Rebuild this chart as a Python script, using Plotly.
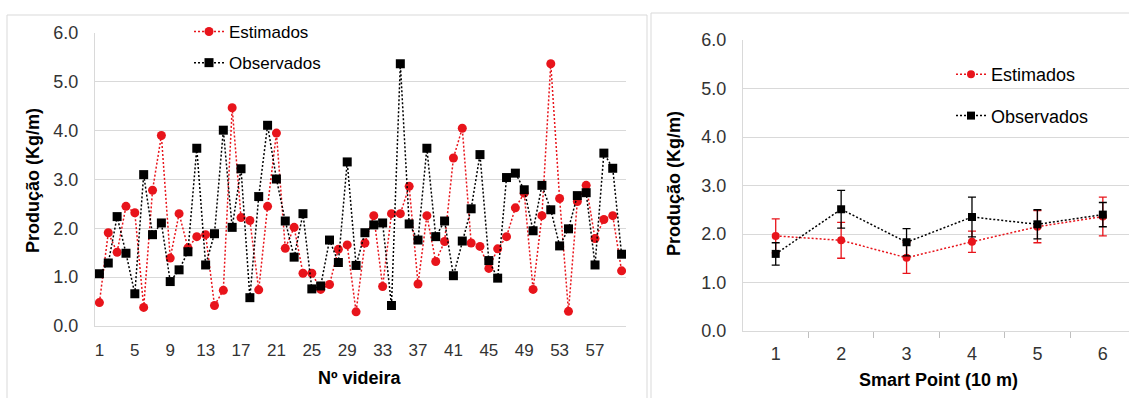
import plotly.graph_objects as go

W, H = 1129, 398

# ---------------- data ----------------
videira = list(range(1, 61))
estimados = [0.48, 1.91, 1.51, 2.45, 2.32, 0.38, 2.78, 3.90, 1.39, 2.30,
             1.60, 1.83, 1.87, 0.42, 0.73, 4.47, 2.22, 2.16, 0.74, 2.45,
             3.95, 1.59, 2.02, 1.08, 1.08, 0.75, 0.85, 1.57, 1.66, 0.29,
             1.70, 2.26, 0.81, 2.30, 2.30, 2.86, 0.86, 2.26, 1.32, 1.73,
             3.44, 4.05, 1.70, 1.63, 1.18, 1.58, 1.83, 2.42, 2.72, 0.75,
             2.26, 5.37, 2.61, 0.30, 2.55, 2.88, 1.79, 2.18, 2.26, 1.13]
observados = [1.07, 1.29, 2.24, 1.49, 0.66, 3.10, 1.87, 2.11, 0.91, 1.15,
              1.52, 3.64, 1.25, 1.89, 4.01, 2.02, 3.22, 0.58, 2.65, 4.11,
              3.01, 2.15, 1.41, 2.30, 0.76, 0.82, 1.76, 1.30, 3.36, 1.24,
              1.91, 2.07, 2.11, 0.42, 5.37, 2.09, 1.76, 3.64, 1.83, 2.15,
              1.03, 1.74, 2.40, 3.51, 1.34, 0.98, 3.04, 3.13, 2.79, 1.95,
              2.88, 2.38, 1.64, 1.99, 2.67, 2.73, 1.25, 3.54, 3.23, 1.47]
videira_ticks = [1, 5, 9, 13, 17, 21, 25, 29, 33, 37, 41, 45, 49, 53, 57]

smart_point = [1, 2, 3, 4, 5, 6]
est_sp = [1.96, 1.87, 1.51, 1.84, 2.15, 2.36]
est_sp_err = [0.35, 0.37, 0.32, 0.22, 0.33, 0.40]
obs_sp = [1.59, 2.51, 1.83, 2.35, 2.20, 2.40]
obs_sp_err = [0.23, 0.39, 0.28, 0.41, 0.30, 0.25]

y_ticks = [0, 1, 2, 3, 4, 5, 6]

RED = "#E8141B"
BLACK = "#000000"
GRID = "#d9d9d9"
FONT = "Liberation Sans, Arial, sans-serif"
DASH = "2px,2px"


def px_x(p):
    return p / W


def px_y(p):
    return 1 - p / H


fig = go.Figure()

# left panel
fig.add_trace(go.Scatter(
    x=videira, y=estimados, name="Estimados", mode="lines+markers",
    line=dict(color=RED, width=1.5, dash=DASH),
    marker=dict(symbol="circle", size=9, color=RED),
    xaxis="x", yaxis="y", legend="legend", legendgroup="e1"))
fig.add_trace(go.Scatter(
    x=videira, y=observados, name="Observados", mode="lines+markers",
    line=dict(color=BLACK, width=1.5, dash=DASH),
    marker=dict(symbol="square", size=9, color=BLACK),
    xaxis="x", yaxis="y", legend="legend", legendgroup="o1"))

# right panel
fig.add_trace(go.Scatter(
    x=smart_point, y=est_sp, name="Estimados", mode="lines+markers",
    line=dict(color=RED, width=1.5, dash=DASH),
    marker=dict(symbol="circle", size=8, color=RED),
    error_y=dict(type="data", array=est_sp_err, color=RED, thickness=1.3, width=4),
    xaxis="x2", yaxis="y2", legend="legend2", legendgroup="e2"))
fig.add_trace(go.Scatter(
    x=smart_point, y=obs_sp, name="Observados", mode="lines+markers",
    line=dict(color=BLACK, width=1.5, dash=DASH),
    marker=dict(symbol="square", size=8, color=BLACK),
    error_y=dict(type="data", array=obs_sp_err, color=BLACK, thickness=1.3, width=4),
    xaxis="x2", yaxis="y2", legend="legend2", legendgroup="o2"))

yaxis_common = dict(
    range=[0, 6], tickvals=y_ticks, tickformat=".1f", automargin=False,
    showgrid=True, gridcolor=GRID, gridwidth=1,
    showline=True, linecolor=GRID, linewidth=1, zeroline=False,
    ticks="outside", ticklen=12, tickcolor="rgba(0,0,0,0)",
    tickfont=dict(family=FONT, size=18, color="#333333"),
)

fig.update_layout(
    template="none",
    width=W, height=H,
    margin=dict(l=0, r=0, t=0, b=0, pad=0, autoexpand=False),
    paper_bgcolor="white", plot_bgcolor="white",
    font=dict(family=FONT, color="#000000"),
    xaxis=dict(
        domain=[px_x(95), px_x(626)], range=[0.5, 60.5], automargin=False,
        tickvals=videira_ticks, showgrid=False, zeroline=False,
        showline=True, linecolor=GRID, linewidth=1,
        ticks="outside", ticklen=9, tickcolor="rgba(0,0,0,0)",
        tickfont=dict(family=FONT, size=17, color="#333333"),
        anchor="y"),
    yaxis=dict(domain=[px_y(326), px_y(33)], anchor="x", **yaxis_common),
    xaxis2=dict(
        domain=[px_x(743), 1.0], range=[0.5, 6.40], automargin=False,
        tickvals=smart_point, showgrid=False, zeroline=False,
        showline=True, linecolor=GRID, linewidth=1,
        ticks="outside", ticklen=6, tickcolor="rgba(0,0,0,0)",
        minor=dict(tickvals=[1.5, 2.5, 3.5, 4.5, 5.5], ticks="outside",
                   ticklen=6, tickcolor="#bfbfbf", tickwidth=1),
        tickfont=dict(family=FONT, size=18, color="#333333"),
        anchor="y2"),
    yaxis2=dict(domain=[px_y(331), px_y(40)], anchor="x2", **yaxis_common),
    legend=dict(
        x=px_x(189), y=px_y(14), xanchor="left", yanchor="top",
        bgcolor="rgba(255,255,255,0)", borderwidth=0,
        font=dict(family=FONT, size=17, color="#000000"),
        tracegroupgap=6, itemwidth=30),
    legend2=dict(
        x=px_x(951), y=px_y(56), xanchor="left", yanchor="top",
        bgcolor="rgba(255,255,255,0)", borderwidth=0,
        font=dict(family=FONT, size=18, color="#000000"),
        tracegroupgap=15, itemwidth=30),
    showlegend=True,
)

# axis titles as annotations
ann_common = dict(xref="paper", yref="paper", showarrow=False,
                  xanchor="center", yanchor="middle",
                  font=dict(family=FONT, size=18, color="#000000"))
fig.add_annotation(text="<b>Produção (Kg/m)</b>", x=px_x(33), y=px_y(181),
                   textangle=-90, **ann_common)
fig.add_annotation(text="<b>Nº videira</b>", x=px_x(360), y=px_y(378), **ann_common)
fig.add_annotation(text="<b>Produção (Kg/m)</b>", x=px_x(674), y=px_y(184),
                   textangle=-90, **ann_common)
fig.add_annotation(text="<b>Smart Point (10 m)</b>", x=px_x(938), y=px_y(380), **ann_common)

# chart-area frames
frame = dict(color="#d9d9d9", width=1)
for (x0, y0, x1, y1) in [(7, 15, 647, 15), (7, 15, 7, 400), (647, 15, 647, 400),
                         (651, 13, 1130, 13), (651, 13, 651, 400)]:
    fig.add_shape(type="line", xref="paper", yref="paper",
                  x0=px_x(x0), y0=px_y(y0), x1=px_x(x1), y1=px_y(y1),
                  line=frame, layer="below")

fig.write_html("out.html", config={"displayModeBar": False},
               post_script="document.body.style.margin='0';document.body.style.overflow='hidden';")
